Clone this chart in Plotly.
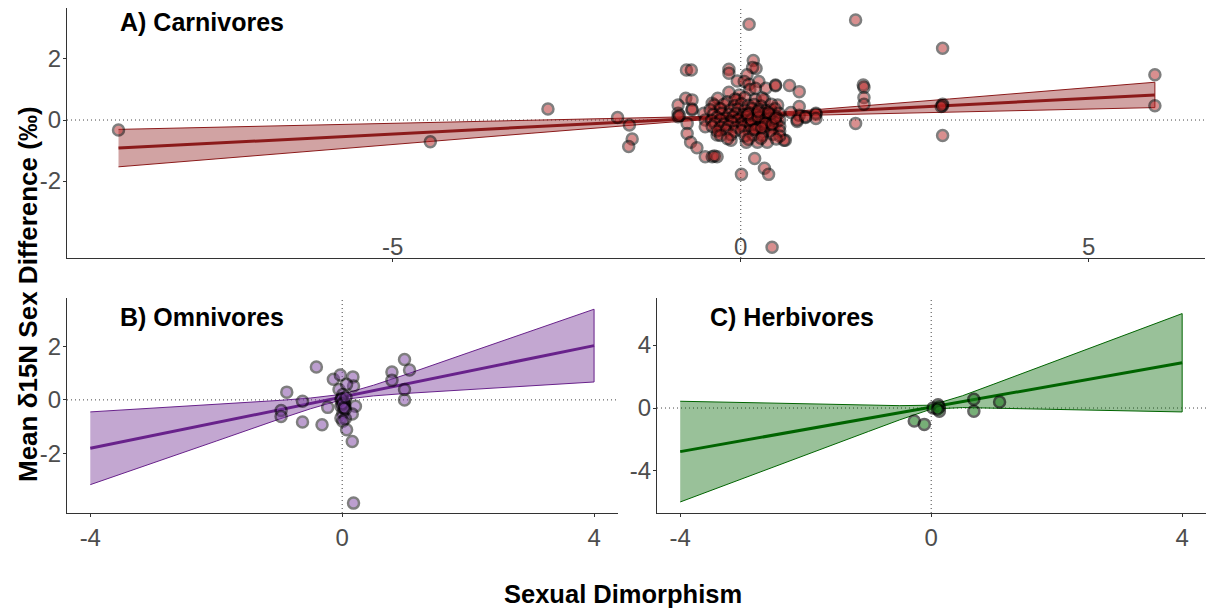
import plotly.graph_objects as go

# ---------------- data ----------------
# Carnivores: sexual dimorphism (x) vs mean d15N sex difference (y)
carn_x = [
    -8.94, -4.46, -2.77, -1.77, -1.60, -1.56, -1.61,
    0.12, 1.65, 2.90, 5.95, 5.95, 2.90, 2.90, 2.88, 2.90,
    1.76, 1.77, 1.77, 1.77, 1.65,
    1.08, 1.08, 0.93, 0.81, 0.64,
    -0.78, -0.71, -0.17, -0.17, 0.18, 0.22, 0.17, 0.09,
    -0.05, 0.05, 0.12, 0.26, 0.36, 0.50, 0.50, 0.70, 0.84,
    0.13, 0.21, -0.17, -0.02, -0.05,
    -0.79, -0.70, -0.90, -0.90, -0.90, -0.88, -0.70, -0.70,
    -0.41, -0.31, -0.19, 0.34, 0.53, 0.43, 0.40,
    0.84, 0.84, 0.72, 0.81, 0.93, 1.08,
    -0.53, -0.51, -0.51, -0.77, -0.77, -0.72, -0.63,
    -0.51, -0.41, -0.34, -0.38, -0.34, -0.31, -0.14,
    0.08, 0.24, 0.38, 0.62, 0.20, 0.34, 0.40, 0.01, 0.45,
    -0.33, -0.08, 0.06, 0.21, 0.31,
    -0.38, -0.24, -0.09, 0.01, 0.11, 0.19, 0.29, 0.44,
    -0.44, -0.29, -0.15, -0.04, 0.06, 0.16, 0.26, 0.36, 0.49,
    -0.39, -0.27, -0.17, -0.07, 0.03, 0.13, 0.23, 0.33, 0.42, 0.55,
    -0.34, -0.21, -0.11, 0.01, 0.09, 0.19, 0.29, 0.41, 0.51,
    -0.42, -0.29, -0.14, -0.04, 0.06, 0.16, 0.26, 0.36, 0.46, 0.56,
    -0.37, -0.24, -0.12, 0.01, 0.11, 0.21, 0.31, 0.39, 0.51,
    -0.41, -0.29, -0.18, -0.07, 0.03, 0.14, 0.24, 0.34, 0.46, 0.56,
    -0.34, -0.21, -0.09, 0.01, 0.12, 0.22, 0.33, 0.43, 0.56,
    -0.29, -0.14, 0.06, 0.18, 0.31, 0.46, 0.56,
    -0.19, 0.11, 0.29, 0.51,
    0.15, 0.25, 0.35, 0.20, 0.40, 0.30, 0.10, 0.45, 0.50, 0.25,
]
carn_y = [
    -0.33, -0.71, 0.36, 0.08, -0.16, -0.62, -0.87,
    3.14, 3.28, 2.35, 1.48, 0.47, 0.47, 0.52, 0.44, -0.51,
    1.15, 1.07, 0.74, 0.52, -0.11,
    0.19, 0.22, 0.08, -0.05, -0.66,
    1.64, 1.64, 1.66, 1.53, 1.95, 1.69, 1.72, 1.48,
    1.28, 1.26, 1.17, 1.26, 1.04, 1.15, 1.12, 1.13, 0.93,
    1.00, 1.04, 0.91, 0.82, 0.66,
    0.71, 0.66, 0.49, 0.22, 0.11, 0.15, 0.33, 0.36,
    0.55, 0.38, 0.60, 0.66, 0.49, 0.33, 0.16,
    0.44, 0.16, 0.25, 0.00, 0.11, 0.05,
    0.22, 0.00, -0.22, -0.11, -0.44, -0.73, -0.91,
    -1.20, -1.20, -1.20, -1.18, -0.49, -0.33, -0.66,
    -0.73, -0.73, -0.73, -0.66, -1.26, -1.58, -1.78, -1.78, -4.17,
    0.71, 0.69, 0.74, 0.67, 0.72,
    0.49, 0.52, 0.47, 0.53, 0.48, 0.51, 0.46, 0.52,
    0.34, 0.37, 0.33, 0.36, 0.32, 0.38, 0.34, 0.31, 0.37,
    0.19, 0.22, 0.18, 0.21, 0.17, 0.23, 0.19, 0.21, 0.18, 0.22,
    0.09, 0.07, 0.11, 0.08, 0.12, 0.06, 0.10, 0.07, 0.11,
    -0.01, 0.02, -0.03, 0.01, -0.02, 0.03, -0.01, 0.02, -0.03, 0.00,
    -0.11, -0.13, -0.09, -0.12, -0.10, -0.14, -0.11, -0.13, -0.09,
    -0.21, -0.23, -0.20, -0.24, -0.21, -0.19, -0.23, -0.20, -0.24, -0.21,
    -0.36, -0.33, -0.37, -0.34, -0.36, -0.32, -0.37, -0.34, -0.36,
    -0.51, -0.48, -0.52, -0.49, -0.51, -0.47, -0.52,
    -0.61, -0.63, -0.60, -0.62,
    0.00, 0.10, -0.10, -0.30, 0.25, -0.25, 0.20, -0.15, 0.05, 0.28,
]

omni_x = [
    -0.41, -0.88, -0.63, -0.97, -0.97, -0.63, -0.32, -0.23,
    -0.14, -0.03, -0.05, 0.17, 0.18, 0.07, 0.01, -0.02, 0.04, -0.02,
    0.21, 0.16, 0.01, -0.02, 0.05, 0.01, 0.07, 0.16,
    0.79, 0.79, 0.99, 1.07, 0.99, 0.99, 0.18,
    0.02, 0.04, -0.01, 0.05, 0.00, 0.06, 0.03,
]
omni_y = [
    1.23, 0.29, -0.05, -0.40, -0.62, -0.83, -0.93, -0.28,
    0.77, 0.93, 0.39, 0.86, 0.52, 0.58, 0.20, 0.01, -0.11, -0.24,
    -0.24, -0.53, -0.49, -0.68, -0.70, -0.80, -1.12, -1.56,
    1.04, 0.73, 1.51, 1.12, 0.39, 0.00, -3.86,
    -0.09, -0.20, 0.05, -0.35, -0.15, 0.10, -0.30,
]

herb_x = [-0.27, -0.11, 0.03, 0.11, 0.13, 0.13, 0.10, 0.68, 0.68, 1.09]
herb_y = [-0.83, -1.04, 0.00, 0.21, 0.06, -0.21, -0.06, 0.56, -0.21, 0.38]

# Linear fits with 95% confidence bands
carn_fit_x = [-8.94, -6, -3, -1, -0.5, 0, 0.5, 1, 3, 5.95]
carn_fit = [-0.92, -0.575, -0.224, 0.010, 0.069, 0.127, 0.186, 0.244, 0.478, 0.823]
carn_lo = [-1.533, -0.988, -0.431, -0.067, 0.018, 0.087, 0.131, 0.162, 0.266, 0.408]
carn_hi = [-0.307, -0.162, -0.017, 0.087, 0.120, 0.167, 0.240, 0.326, 0.690, 1.238]

omni_fit_x = [-4, -3, -2, -1, -0.5, 0, 0.5, 1, 2, 3, 4]
omni_fit = [-1.81, -1.33, -0.85, -0.37, -0.13, 0.11, 0.35, 0.59, 1.07, 1.55, 2.03]
omni_lo = [-3.17, -2.36, -1.54, -0.72, -0.33, 0.01, 0.15, 0.24, 0.38, 0.53, 0.67]
omni_hi = [-0.45, -0.31, -0.16, -0.02, 0.07, 0.21, 0.55, 0.94, 1.76, 2.58, 3.39]

herb_fit_x = [-4, -3, -2, -1, -0.5, 0, 0.5, 1, 2, 3, 4]
herb_fit = [-2.771, -2.065, -1.359, -0.653, -0.30, 0.053, 0.406, 0.759, 1.465, 2.171, 2.877]
herb_lo = [-5.97, -4.48, -2.98, -1.49, -0.75, -0.07, 0.03, 0.00, -0.08, -0.16, -0.25]
herb_hi = [0.43, 0.35, 0.26, 0.19, 0.15, 0.18, 0.78, 1.52, 3.01, 4.51, 6.00]

panel_titles = ["A) Carnivores", "B) Omnivores", "C) Herbivores"]
x_title = "Sexual Dimorphism"
y_title = "Mean δ15N Sex Difference (‰)"

# ---------------- styling ----------------
FONT = "Liberation Sans, Arial, sans-serif"
TICK_COLOR = "#4d4d4d"

panels = [
    dict(x=carn_x, y=carn_y, fx=carn_fit_x, fit=carn_fit, lo=carn_lo, hi=carn_hi,
         line="#8b1a1a", band="rgba(139,26,26,0.4)", pt="#b22222", op=0.5,
         xa="x", ya="y"),
    dict(x=omni_x, y=omni_y, fx=omni_fit_x, fit=omni_fit, lo=omni_lo, hi=omni_hi,
         line="#68228b", band="rgba(104,34,139,0.4)", pt="#7b3fa0", op=0.5,
         xa="x2", ya="y2"),
    dict(x=herb_x, y=herb_y, fx=herb_fit_x, fit=herb_fit, lo=herb_lo, hi=herb_hi,
         line="#006400", band="rgba(0,100,0,0.4)", pt="#1e7b1e", op=0.6,
         xa="x3", ya="y3"),
]

fig = go.Figure()
for p in panels:
    # confidence band (upper edge forward, lower edge reversed)
    fig.add_trace(go.Scatter(
        x=p["fx"] + p["fx"][::-1], y=p["hi"] + p["lo"][::-1],
        fill="toself", fillcolor=p["band"], mode="lines",
        line=dict(color=p["line"], width=1), xaxis=p["xa"], yaxis=p["ya"],
        hoverinfo="skip", showlegend=False))
    fig.add_trace(go.Scatter(
        x=p["fx"], y=p["fit"], mode="lines", line=dict(color=p["line"], width=3),
        xaxis=p["xa"], yaxis=p["ya"], showlegend=False))
    fig.add_trace(go.Scatter(
        x=p["x"], y=p["y"], mode="markers",
        marker=dict(size=11, color=p["pt"], opacity=p["op"],
                    line=dict(color="black", width=2.5)),
        xaxis=p["xa"], yaxis=p["ya"], showlegend=False))

W, H = 1208, 613
def px_x(a, b):
    return [a / W, b / W]
def px_y(top, bottom):
    return [1 - bottom / H, 1 - top / H]

axis_common = dict(
    showgrid=False, zeroline=False, showline=True, linecolor="#333333", linewidth=1,
    ticks="outside", ticklen=3, tickcolor="#333333", tickwidth=1,
    tickfont=dict(family=FONT, size=24, color=TICK_COLOR),
)
yaxis_extra = dict(ticklabelstandoff=-3)

fig.update_layout(
    width=W, height=H, margin=dict(l=0, r=0, t=0, b=0),
    paper_bgcolor="white", plot_bgcolor="white", showlegend=False,
    xaxis=dict(domain=px_x(67, 1205), range=[-9.68, 6.67], tickvals=[-5, 0, 5],
               ticktext=["-5", "0", "5"], anchor="y", ticklabelposition="inside",
               **axis_common),
    yaxis=dict(domain=px_y(8, 258), range=[-4.52, 3.67], tickvals=[-2, 0, 2],
               ticktext=["-2", "0", "2"], anchor="x", **axis_common, **yaxis_extra),
    xaxis2=dict(domain=px_x(67, 618), range=[-4.37, 4.38], tickvals=[-4, 0, 4],
                ticktext=["-4", "0", "4"], anchor="y2", **axis_common),
    yaxis2=dict(domain=px_y(298, 513), range=[-4.23, 3.81], tickvals=[-2, 0, 2],
                ticktext=["-2", "0", "2"], anchor="x2", **axis_common, **yaxis_extra),
    xaxis3=dict(domain=px_x(657, 1206), range=[-4.37, 4.38], tickvals=[-4, 0, 4],
                ticktext=["-4", "0", "4"], anchor="y3", **axis_common),
    yaxis3=dict(domain=px_y(298, 513), range=[-6.67, 6.99], tickvals=[-4, 0, 4],
                ticktext=["-4", "0", "4"], anchor="x3", **axis_common, **yaxis_extra),
)

# dotted reference lines at zero
ref_line = dict(color="#444444", width=1, dash="1px,3px")
for xa, ya in [("x", "y"), ("x2", "y2"), ("x3", "y3")]:
    fig.add_shape(type="line", xref=f"{xa} domain", x0=0, x1=1, yref=ya, y0=0, y1=0,
                  line=ref_line, layer="below")
    fig.add_shape(type="line", xref=xa, x0=0, x1=0, yref=f"{ya} domain", y0=0, y1=1,
                  line=ref_line, layer="below")

# panel labels
title_font = dict(family=FONT, size=25, color="black")
for text, x, y in [(panel_titles[0], 118, 22), (panel_titles[1], 118, 317),
                   (panel_titles[2], 708, 317)]:
    fig.add_annotation(text=f"<b>{text}</b>", xref="paper", yref="paper",
                       x=x / W, y=1 - y / H, xanchor="left", yanchor="middle",
                       showarrow=False, font=title_font)

# shared axis titles
fig.add_annotation(text=f"<b>{y_title}</b>", xref="paper", yref="paper",
                   x=28 / W, y=1 - 294 / H, textangle=-90, xanchor="center",
                   yanchor="middle", showarrow=False,
                   font=dict(family=FONT, size=26, color="black"))
fig.add_annotation(text=f"<b>{x_title}</b>", xref="paper", yref="paper",
                   x=623 / W, y=1 - 594 / H, xanchor="center", yanchor="middle",
                   showarrow=False, font=dict(family=FONT, size=25.5, color="black"))

fig.write_html("out.html")
